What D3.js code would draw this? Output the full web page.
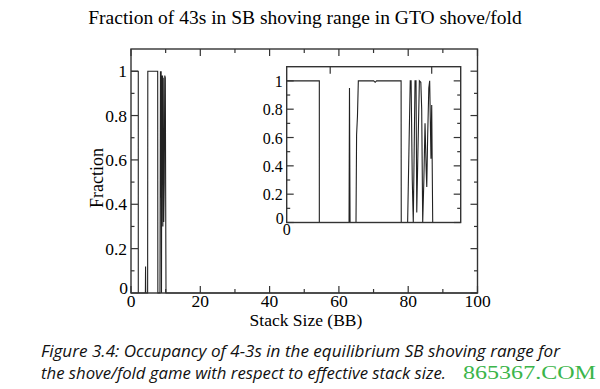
<!DOCTYPE html>
<html>
<head>
<meta charset="utf-8">
<script src="https://cdn.jsdelivr.net/npm/d3@7"></script>
<style>
  body { margin: 0; background: #fff; }
  svg { display: block; }
</style>
</head>
<body>
<svg width="600" height="389"></svg>
<script>
var svg = d3.select("svg"),
    serif = "'Liberation Serif', 'Times New Roman', serif";

// main curve: [stack size (BB), fraction of 43s shoved]
var mainStack = [0, 2.1, 2.1, 4.15, 4.2, 4.25, 4.8, 4.85, 7.7, 7.75, 8.36, 8.5, 8.6, 8.7, 8.8, 8.9, 9.0, 9.1, 9.2, 9.3, 9.45, 9.6, 9.75, 9.9, 10.1, 100];
var mainFrac  = [1, 1, 0, 0, 0.12, 0, 0, 1, 1, 0, 0, 1, 0.43, 1, 0, 0.98, 0.5, 0.98, 0.3, 0.97, 0.32, 0.5, 0.98, 0.97, 0, 0];

// inset (zoom on 0-12 BB)
var insetStack = [0, 2.25, 2.25, 4.3, 4.33, 4.37, 4.78, 4.82, 4.88, 4.94, 6.0, 6.1, 6.2, 7.89, 7.9, 8.34, 8.45, 8.52, 8.58, 8.66, 8.73, 8.85, 8.92, 8.97, 9.05, 9.15, 9.25, 9.31, 9.38, 9.46, 9.54, 9.62, 9.66, 9.72, 9.80, 9.86, 9.95, 10.0, 10.07, 12];
var insetFrac  = [1, 1, 0, 0, 0.95, 0, 0, 0.62, 0.75, 1, 1, 0.99, 1, 1, 0, 0, 0.62, 1, 1, 0.3, 0, 1, 1, 0.07, 0.5, 1, 0.99, 0.8, 0, 0.3, 0.7, 0.37, 0.25, 0.6, 0.95, 1, 0.45, 0.83, 0, 0];

var mainXTicks = [0, 20, 40, 60, 80, 100],
    mainXMinor = [10, 30, 50, 70, 90],
    yTicks = [0, 0.2, 0.4, 0.6, 0.8, 1],
    yMinor = [0.1, 0.3, 0.5, 0.7, 0.9],
    insetXTicks = [3, 10];

function toPoints(xs, ys) {
  return xs.map(function(x, i) { return [x, ys[i]]; });
}

function drawPanel(box, xDomain, data, opts) {
  var x = d3.scaleLinear().domain(xDomain).range([box.left, box.right]);
  var y = d3.scaleLinear().domain([0, 1.1]).range([box.bottom, box.top]);
  var g = svg.append("g");

  var line = d3.line()
    .x(function(d) { return x(d[0]); })
    .y(function(d) { return y(d[1]); });

  g.append("path")
    .datum(data)
    .attr("d", line)
    .attr("fill", "none")
    .attr("stroke", "#222")
    .attr("stroke-width", 1.1);

  g.append("rect")
    .attr("x", box.left).attr("y", box.top)
    .attr("width", box.right - box.left)
    .attr("height", box.bottom - box.top)
    .attr("fill", "none")
    .attr("stroke", "#333")
    .attr("stroke-width", 1.4);

  function ticks(vals, len) {
    vals.forEach(function(v) {
      g.append("line").attr("x1", box.left).attr("x2", box.left + len)
        .attr("y1", y(v)).attr("y2", y(v));
      g.append("line").attr("x1", box.right).attr("x2", box.right - len)
        .attr("y1", y(v)).attr("y2", y(v));
    });
  }
  ticks(yTicks, 7);
  ticks(yMinor, 3.5);

  function xticks(vals, len, bottom) {
    vals.forEach(function(v) {
      g.append("line").attr("x1", x(v)).attr("x2", x(v))
        .attr("y1", box.top).attr("y2", box.top + len);
      if (bottom)
        g.append("line").attr("x1", x(v)).attr("x2", x(v))
          .attr("y1", box.bottom).attr("y2", box.bottom - len);
    });
  }
  xticks(opts.xTicks, 7, opts.bottomTicks);
  if (opts.xMinor) xticks(opts.xMinor, 4, opts.bottomTicks);

  g.selectAll("line").attr("stroke", "#333").attr("stroke-width", 1.2);

  // y tick labels
  g.selectAll(".ylab")
    .data(yTicks)
    .enter().append("text")
    .attr("x", function(d) { return d === 0 ? box.left - 3 : box.left - 4; })
    .attr("y", function(d) { return y(d) + (d === 0 ? 1 : 6); })
    .attr("text-anchor", "end")
    .attr("font-family", serif)
    .attr("font-size", opts.fontSize)
    .attr("fill", "#000")
    .text(function(d) { return d === 1 ? "1" : d === 0 ? "0" : d3.format(".1f")(d); });

  // x tick labels
  g.selectAll(".xlab")
    .data(opts.xLabels)
    .enter().append("text")
    .attr("x", function(d) { return x(d); })
    .attr("y", box.bottom + opts.fontSize * 0.8)
    .attr("text-anchor", "middle")
    .attr("font-family", serif)
    .attr("font-size", opts.fontSize)
    .attr("fill", "#000")
    .text(function(d) { return d; });

  return { x: x, y: y };
}

drawPanel({ left: 131, right: 477.5, top: 49, bottom: 293 }, [0, 100],
  toPoints(mainStack, mainFrac),
  { xTicks: mainXTicks, xMinor: mainXMinor, xLabels: mainXTicks, bottomTicks: true, fontSize: 17.5 });

svg.append("rect")
  .attr("x", 286.7).attr("y", 66.7).attr("width", 174).attr("height", 156)
  .attr("fill", "#fff");

drawPanel({ left: 286.7, right: 460.7, top: 66.7, bottom: 222.5 }, [0, 12],
  toPoints(insetStack, insetFrac),
  { xTicks: insetXTicks, xLabels: [0], bottomTicks: false, fontSize: 16 });

svg.append("text")
  .attr("x", 305).attr("y", 24)
  .attr("text-anchor", "middle")
  .attr("font-family", serif)
  .attr("font-size", 19.5)
  .text("Fraction of 43s in SB shoving range in GTO shove/fold");

svg.append("text")
  .attr("x", 306).attr("y", 326)
  .attr("text-anchor", "middle")
  .attr("font-family", serif)
  .attr("font-size", 17.5)
  .text("Stack Size (BB)");

svg.append("text")
  .attr("transform", "translate(103,178) rotate(-90)")
  .attr("text-anchor", "middle")
  .attr("font-family", serif)
  .attr("font-size", 18)
  .text("Fraction");

var caption = [
  "Figure 3.4: Occupancy of 4-3s in the equilibrium SB shoving range for",
  "the shove/fold game with respect to effective stack size."
];
svg.selectAll(".cap")
  .data(caption)
  .enter().append("text")
  .attr("x", 41)
  .attr("y", function(d, i) { return 357 + i * 22; })
  .attr("font-family", "'Open Sans', 'Noto Sans', sans-serif")
  .attr("font-style", "italic")
  .attr("font-size", 16.5)
  .attr("fill", "#111")
  .attr("textLength", function(d, i) { return i === 0 ? 519 : 405; })
  .attr("lengthAdjust", "spacingAndGlyphs")
  .text(function(d) { return d; });

svg.append("text")
  .attr("x", 463).attr("y", 379)
  .attr("font-family", serif)
  .attr("font-size", 19)
  .attr("fill", "#3bb54a")
  .attr("textLength", 133)
  .attr("lengthAdjust", "spacingAndGlyphs")
  .text("865367.COM");
</script>
</body>
</html>
